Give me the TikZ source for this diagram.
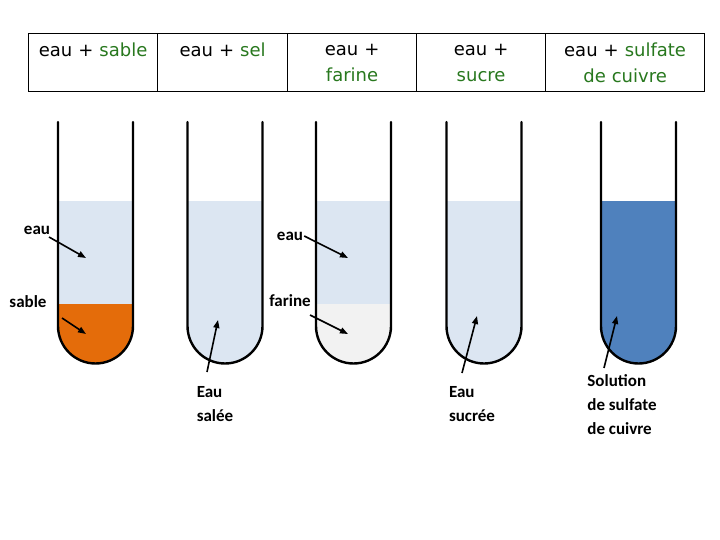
\documentclass[tikz,border=0pt]{standalone}
\usepackage{fontspec}
\setmainfont{Carlito}
\newfontfamily\headfont{DejaVu Sans}
\usetikzlibrary{arrows.meta}
\definecolor{hgreen}{RGB}{40,120,30}
\definecolor{water}{RGB}{220,230,242}
\definecolor{sand}{RGB}{228,108,10}
\definecolor{flour}{RGB}{242,242,242}
\definecolor{cuivre}{RGB}{79,129,189}
\tikzset{
  cell/.style={draw=black,line width=1.2pt,minimum height=58pt,text width=120pt,align=center,inner sep=0pt,font=\headfont\fontsize{18}{26}\selectfont,anchor=north west},
  lbl/.style={font=\bfseries\fontsize{17}{24}\selectfont,inner sep=1pt,align=left},
  arr/.style={-{Triangle[length=8pt,width=6pt]},line width=1.6pt},
  tubeline/.style={line width=2.4pt,line cap=round}
}
\newcommand{\tubeshape}[1]{(#1-37.5,122) -- (#1-37.5,326) arc[start angle=180,end angle=0,radius=37.5] -- (#1+37.5,122)}
\newcommand{\tubefill}[3]{\begin{scope}\clip \tubeshape{#1} -- cycle; \fill[#3] (#1-40,#2) rectangle (#1+40,370);\end{scope}}
\begin{document}
\begin{tikzpicture}[x=1pt,y=-1pt]
\useasboundingbox (0,0) rectangle (720,540);
\fill[white] (0,0) rectangle (720,540);
% header
\node[cell,text width=129pt] (c1) at (28,33) {eau + \textcolor{hgreen}{sable}\\\mbox{}};
\node[cell,text width=130pt] (c2) at (157,33) {eau + \textcolor{hgreen}{sel}\\\mbox{}};
\node[cell,text width=129pt] (c3) at (287,33) {eau +\\\textcolor{hgreen}{farine}};
\node[cell,text width=129pt] (c4) at (416,33) {eau +\\\textcolor{hgreen}{sucre}};
\node[cell,text width=159pt] (c5) at (545,33) {eau + \textcolor{hgreen}{sulfate}\\\textcolor{hgreen}{de cuivre}};
% fills
\tubefill{95.5}{201}{water}
\tubefill{95.5}{304}{sand}
\tubefill{225}{201}{water}
\tubefill{353.5}{201}{water}
\tubefill{353.5}{304}{flour}
\tubefill{484}{201}{water}
\tubefill{638.5}{201}{cuivre}
\foreach \x in {95.5,225,353.5,484,638.5}{\draw[tubeline] \tubeshape{\x};}
% labels
\node[lbl] (l1) at (37,230) {eau};
\coordinate (t1) at (86,258);
\draw[arr] (49,237) -- (t1);
\node[lbl] (l2) at (28,302) {sable};
\coordinate (t2) at (86,334);
\draw[arr] (62,318) -- (t2);
\node[lbl] (l3) at (215,404) {Eau\\salée};
\coordinate (t3) at (218,320);
\draw[arr] (207,372) -- (t3);
\node[lbl] (l4) at (290,236) {eau};
\coordinate (t4) at (348,258);
\draw[arr] (l4.east) -- (t4);
\node[lbl] (l5) at (290,301) {farine};
\coordinate (t5) at (348,334);
\draw[arr] (310,315) -- (t5);
\node[lbl] (l6) at (472,404) {Eau\\sucrée};
\coordinate (t6) at (477,316);
\draw[arr] (462,373) -- (t6);
\node[lbl] (l7) at (622,405) {Solution\\de sulfate\\de cuivre};
\coordinate (t7) at (617,316);
\draw[arr] (604,368) -- (t7);
\end{tikzpicture}
\end{document}
